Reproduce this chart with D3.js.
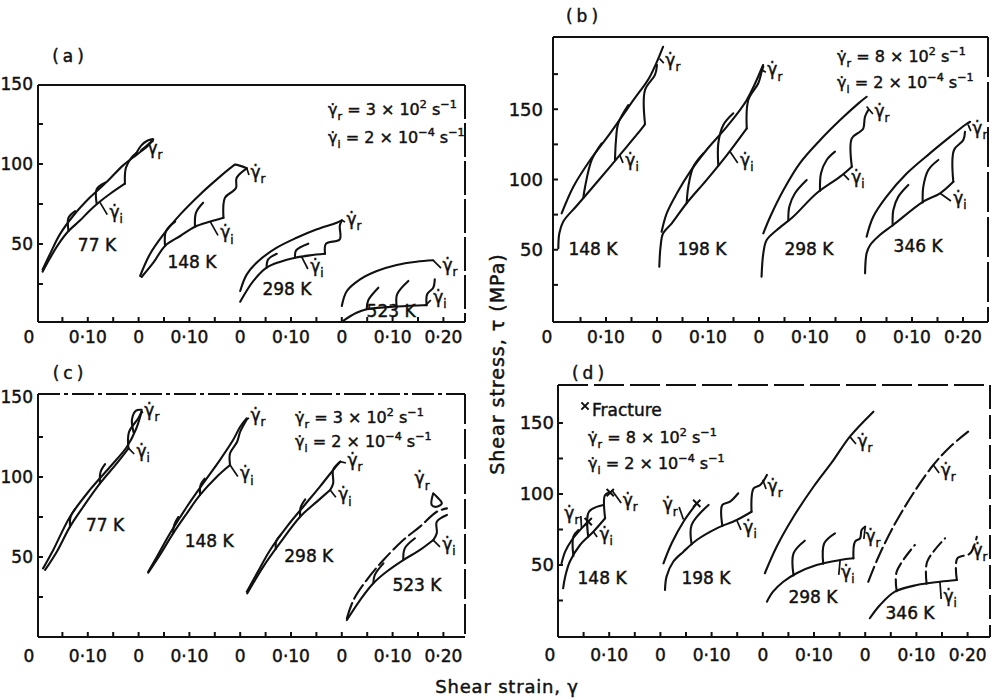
<!DOCTYPE html>
<html>
<head>
<meta charset="utf-8">
<script src="https://cdn.jsdelivr.net/npm/d3@7"></script>
<style>
  html, body { margin: 0; padding: 0; background: #fff; }
  svg { display: block; }
  text { font-family: "DejaVu Sans", sans-serif; fill: #111; stroke: #111; stroke-width: 0.45px; }
</style>
</head>
<body>
<svg id="fig" width="1003" height="700"></svg>
<script>
// ---------------------------------------------------------------
// Shear stress – shear strain curves, four test series (a)–(d).
// Each series holds four temperatures; every curve restarts at
// zero strain, shifted 0.20 along the common strain axis.
// Points are [local shear strain, shear stress in MPa].
// ---------------------------------------------------------------

const temperaturesA = ["77 K", "148 K", "298 K", "523 K"];
const temperaturesB = ["148 K", "198 K", "298 K", "346 K"];
const temperaturesC = ["77 K", "148 K", "298 K", "523 K"];
const temperaturesD = ["148 K", "198 K", "298 K", "346 K"];

// strain-rate legends: [subscript, mantissa, exponent]
const ratesAC = [["r", "3", "2"], ["i", "2", "\u22124"]];
const ratesBD = [["r", "8", "2"], ["i", "2", "\u22124"]];

// x tick labels (every 0.10 of the shared axis) and y tick labels
const strainTickLabels = ["0", "0\u00b710", "0", "0\u00b710", "0", "0\u00b710", "0", "0\u00b710", "0\u00b720"];
const stressTickLabels = [50, 100, 150];

// ---- series (a) ----
const upperA = [
  [[0.011,34],[0.026,44],[0.045,56],[0.071,67.5],[0.104,79],[0.138,89],[0.169,99],[0.197,106],[0.217,111],[0.226,114]],
  [[0.003,30],[0.022,43.5],[0.049,56],[0.082,68.5],[0.121,81],[0.154,90.4],[0.186,98.8],[0.19,99.6],[0.213,97.3]],
  [[0.0,20.6],[0.013,31],[0.036,39.4],[0.072,47.7],[0.111,53.9],[0.151,59.2],[0.19,63.3],[0.2,64.8]],
  [[0.0,11.3],[0.01,20.6],[0.036,27.9],[0.069,33.1],[0.108,36.9],[0.147,38.9],[0.18,39.8]]
];
const lowerA = [
  [[0.011,32.7],[0.026,41.4],[0.042,49.8],[0.062,58.1],[0.085,64.8],[0.104,71],[0.121,75.8],[0.144,81.4],[0.173,87.7]],
  [[0.006,29.4],[0.029,38.3],[0.052,48.8],[0.082,55],[0.111,60.8],[0.141,64],[0.167,66.4]],
  [[0.0,13.9],[0.026,26.9],[0.052,35.2],[0.078,38.8],[0.108,41.4],[0.137,42.9],[0.167,43.9]],
  [[0.0,1.4],[0.029,7],[0.049,9.2],[0.101,10.8],[0.16,11.7],[0.167,11.8]]
];
const jumpsA = [
  [[[0.062,58.1],[0.062,66.4],[0.075,70.6]],
   [[0.1175,75.2],[0.1175,84.2],[0.134,88.3]],
   [[0.173,87.7],[0.175,97.7],[0.186,104],[0.196,107]],
   [[0.196,107],[0.205,111.5],[0.217,114.5],[0.229,115.5],[0.218,112],[0.205,108.5]]],
  [[[0.052,48.8],[0.054,58.1],[0.072,64]],
   [[0.111,60.8],[0.113,69.6],[0.127,75.8]],
   [[0.167,66.4],[0.17,78.9],[0.186,83.1],[0.192,85.2],[0.193,91.4],[0.213,97.3]]],
  [[[0.052,35.2],[0.055,40.4],[0.072,43.9]],
   [[0.108,41.4],[0.11,46],[0.134,50.2]],
   [[0.167,43.9],[0.169,50.2],[0.196,52.9],[0.196,61.3],[0.2,64.8]]],
  [[[0.049,9.2],[0.052,14.8],[0.072,22.7]],
   [[0.108,10.9],[0.109,18.6],[0.131,26.9]],
   [[0.167,11.8],[0.168,18.6],[0.18,22.7],[0.183,27.9]]]
];

// ---- series (b) ----
const upperB = [
  [[0.013,75.9],[0.036,94.9],[0.069,113.9],[0.108,132.9],[0.154,156.6],[0.186,173.2],[0.212,194.5]],
  [[0.009,62.8],[0.019,75.9],[0.039,90.2],[0.065,105.6],[0.097,121],[0.137,137.6],[0.176,156.6],[0.208,181.5]],
  [[0.0085,61.7],[0.022,73.5],[0.048,92.5],[0.08,111.5],[0.12,128.1],[0.159,142.3],[0.195,154.2],[0.211,158.9]],
  [[0.011,59.3],[0.024,73.5],[0.05,87.8],[0.09,104.4],[0.135,118.6],[0.175,130.5],[0.204,138.8],[0.214,141.1]]
];
const lowerB = [
  [[0.0065,51],[0.0085,61.7],[0.016,70],[0.043,81.5],[0.088,100.5],[0.127,117.4],[0.173,137.6],[0.1765,139.5]],
  [[0.0045,37.9],[0.007,52.2],[0.012,61.7],[0.029,68.8],[0.058,83.1],[0.097,99.6],[0.137,117.4],[0.176,136.4]],
  [[0.005,30.8],[0.0085,47.5],[0.015,56.9],[0.035,64.1],[0.067,73.5],[0.113,90.2],[0.159,102],[0.182,109.1]],
  [[0.008,33.2],[0.011,47.5],[0.018,53.4],[0.037,60.5],[0.063,67.6],[0.122,84.2],[0.155,90.2],[0.181,98.4]]
];
const jumpsB = [
  [[[0.0555,86.9],[0.059,94.9],[0.072,113.9],[0.0915,125.8]],
   [[0.1176,113.7],[0.1196,128.1],[0.124,140],[0.1437,153]],
   [[0.1765,139.5],[0.1765,163.7],[0.196,174.4],[0.2,181.5]]],
  [[[0.0582,83.1],[0.0614,94.9],[0.0712,109.1],[0.0908,118.6]],
   [[0.1202,110],[0.1202,125.8],[0.13,138.8],[0.1496,147.1]],
   [[0.176,136.4],[0.179,156.6],[0.1986,168.5],[0.2052,176.7],[0.2084,180.3]]],
  [[[0.0575,70.7],[0.0594,80.6],[0.0706,90.2],[0.0935,99.6]],
   [[0.1196,91.9],[0.1216,104.4],[0.1327,113.9],[0.149,119.8]],
   [[0.182,109.1],[0.182,129.3],[0.198,134],[0.2046,136.4],[0.2078,144.7],[0.2143,149.5]]],
  [[[0.0621,67.3],[0.0634,78.3],[0.0732,87.8],[0.0928,96.1]],
   [[0.121,83.6],[0.1222,94.9],[0.132,106.8],[0.1516,113.9]],
   [[0.181,98.4],[0.1824,121],[0.2006,128.1],[0.2039,134]]]
];

// ---- series (c) ----
const upperC = [
  [[0.012,42.9],[0.032,54.4],[0.065,75.2],[0.104,91.9],[0.144,106.4],[0.177,118.9],[0.195,130],[0.206,141]],
  [[0.019,40.8],[0.036,50.2],[0.062,64.8],[0.095,81.4],[0.127,96],[0.16,110.6],[0.186,123.1],[0.2,131.4],[0.213,136.7]],
  [[0.013,28.3],[0.033,39.8],[0.059,54.4],[0.092,69],[0.124,81.4],[0.157,94],[0.183,104.4],[0.197,109.6]],
  [[0.01,11.7],[0.023,23.1],[0.049,35.6],[0.082,48.1],[0.121,60.6],[0.154,69],[0.187,78.3],[0.207,80.4]]
];
const lowerC = [
  [[0.016,41.9],[0.039,53.3],[0.065,69],[0.091,81.4],[0.124,96],[0.157,108.5],[0.18,117.9]],
  [[0.019,40.2],[0.042,51.3],[0.068,64.8],[0.095,77.3],[0.121,88.8],[0.154,100.2],[0.18,107.5]],
  [[0.014,27.3],[0.0455,44],[0.078,58.6],[0.118,75.2],[0.151,84.6],[0.177,91.9]],
  [[0.01,10.6],[0.036,23.1],[0.062,33.6],[0.088,40.8],[0.121,48.1],[0.154,54.4],[0.18,60.6]]
];
const jumpsC = [
  [[[0.065,69],[0.066,75],[0.075,80]],
   [[0.124,96],[0.125,103],[0.134,108]],
   [[0.18,117.9],[0.181,128],[0.2,137],[0.206,141]],
   [[0.19,128],[0.187,136],[0.195,141.5],[0.206,142]]],
  [[[0.068,64.8],[0.07,70],[0.078,75]],
   [[0.121,88.8],[0.122,95],[0.13,99]],
   [[0.18,107.5],[0.18,114.8],[0.194,122],[0.2,128.3],[0.213,136]]],
  [[[0.07,55],[0.071,60],[0.08,64]],
   [[0.118,75.2],[0.119,81],[0.128,86]],
   [[0.177,91.9],[0.183,96],[0.183,104.4],[0.197,109.6]]],
  [[[0.062,33.6],[0.065,38.8],[0.082,46]],
   [[0.121,48.1],[0.124,55.4],[0.144,61.7]],
   [[0.18,60.6],[0.187,64.8],[0.187,72.1],[0.207,76.3]],
   [[0.18,89.8],[0.177,82.5],[0.187,81.4],[0.197,83.6],[0.187,87.7],[0.18,89.8]]]
];

// ---- series (d) ----
const upperD = [
  [[0.007,51.2],[0.014,59.4],[0.027,67.6],[0.046,75.8],[0.059,80.5]],
  [[0.006,51.2],[0.022,65.3],[0.045,80.5],[0.071,93.4]],
  [[0.004,44.2],[0.027,62.9],[0.06,84],[0.099,105.1],[0.138,123.9],[0.17,140.4],[0.216,158]],
  [[0.006,38.2],[0.026,55.8],[0.055,77],[0.094,100.5],[0.133,120.4],[0.166,133.3],[0.201,143.9]]
];
const lowerD = [
  [[0.01,33.6],[0.014,41.8],[0.023,52.3],[0.043,64.1],[0.069,73.4],[0.092,82.9]],
  [[0.009,32.4],[0.012,41.8],[0.025,52.3],[0.045,59.4],[0.071,67.6],[0.11,75.8],[0.149,81.7],[0.178,87.5]],
  [[0.008,24.2],[0.02,31.2],[0.04,38.2],[0.066,44.2],[0.105,50],[0.151,53.5],[0.177,54.7]],
  [[0.009,12.5],[0.029,21.8],[0.058,31.2],[0.101,35.9],[0.146,38.2],[0.179,39.4]]
];
const jumpsD = [
  [[[0.03,56.3],[0.03,70],[0.04,74.6]],
   [[0.059,70],[0.0605,87.5],[0.0885,92.3]],
   [[0.092,82.9],[0.092,99.3],[0.102,101]]],
  [[[0.061,64.5],[0.061,78.2],[0.094,92.3]],
   [[0.121,77.5],[0.121,92.3],[0.136,94.6],[0.152,100.5]],
   [[0.178,87.5],[0.182,104],[0.195,106.3],[0.208,113.4]]],
  [[[0.06,42.7],[0.06,58.2],[0.082,67.1]],
   [[0.118,51],[0.12,65.3],[0.141,72.3]],
   [[0.177,54.7],[0.18,66.4],[0.19,68.8],[0.193,74.6],[0.2,77]]],
  [[[0.0615,31.6],[0.0615,45.3],[0.097,64.1]],
   [[0.12,36.9],[0.121,52.3],[0.156,68.8]],
   [[0.179,39.4],[0.18,54.7],[0.205,58.2],[0.218,69.9]]]
];
// fracture points: [curve index, strain, stress]
const fractureD = [[0, 0.059, 80.5], [0, 0.102, 101], [1, 0.071, 93.4]];

// ---- rate labels: [curve, rate, label strain, label stress, pointed strain, pointed stress]
const rateLabelsA = [
  [0,"r",0.232,109,null,null],[0,"i",0.156,69,0.124,76],
  [1,"r",0.235,93.8,0.213,97.3],[1,"i",0.174,56,0.141,64],
  [2,"r",0.224,64.4,0.2,64.8],[2,"i",0.151,35,0.121,42],
  [3,"r",0.213,35.6,0.18,39.8],[3,"i",0.193,15.6,0.165,11.8]
];
const rateLabelsB = [
  [0,"r",0.231,183.6,0.205,186],[0,"i",0.151,112.5,0.127,117.4],
  [1,"r",0.231,177,0.206,178],[1,"i",0.176,112.5,0.143,120],
  [2,"r",0.241,147.3,0.211,152],[2,"i",0.194,100.4,0.165,104],
  [3,"r",0.233,135.2,0.21,139],[3,"i",0.194,85.4,0.155,90.2]
];
const rateLabelsC = [
  [0,"r",0.226,140.6,0.206,141],[0,"i",0.209,115,0.18,118],
  [1,"r",0.235,137.5,0.213,136],[1,"i",0.213,101,0.18,107.5],
  [2,"r",0.226,109.4,0.197,109.6],[2,"i",0.206,88,0.177,91.9],
  [3,"r",0.158,98,null,null],[3,"i",0.211,57,0.18,60.6]
];
const rateLabelsD = [
  [0,"r",0.027,85.2,0.046,76],[0,"r",0.141,94.4,0.105,102.8],[0,"i",0.094,70.4,0.069,73.4],
  [1,"r",0.019,91.5,0.045,82],[1,"r",0.224,104.2,0.2,110],[1,"i",0.175,75.4,0.149,81.7],
  [2,"r",0.1996,135.9,0.17,140.4],[2,"r",0.215,69,0.2,77],[2,"i",0.166,43.7,0.151,53.5],
  [3,"r",0.162,115.5,0.133,120.4],[3,"r",0.224,59.2,0.205,58.2],[3,"i",0.166,26.8,0.146,38.2]
];

// ---------------------------------------------------------------
// layout
// ---------------------------------------------------------------
const INK = "#111";
const LINE_W = 2.1;
const svg = d3.select("#fig");

const panels = [
  { key: "a", temps: temperaturesA, upper: upperA, lower: lowerA, jumps: jumpsA, rates: ratesAC, labels: rateLabelsA,
    xPx: [37, 545], yMax: 150, yPx: [324, 84], frame: [38, 85, 465, 322],
    yLabelX: 33, yLabelSize: 17, xLabelY: 343, title: [70, 62],
    tempAt: [[0.118,49.4],[0.105,38.8],[0.092,21.9],[0.097,8.1]],
    legend: [328, 115, 143], topDash: null, rightDash: "34,4",
    upperDash: [null, null, null, null], jumpDash: [null, null, null, null] },
  { key: "b", temps: temperaturesB, upper: upperB, lower: lowerB, jumps: jumpsB, rates: ratesBD, labels: rateLabelsB,
    xPx: [555, 1065], yMax: 200, yPx: [320, 39], frame: [553, 37, 988, 322],
    yLabelX: 543, yLabelSize: 18, xLabelY: 343, title: [584, 22],
    tempAt: [[0.0745,50.5],[0.088,50.5],[0.098,50.5],[0.112,52.7]],
    legend: [837, 62, 88], topDash: null, rightDash: "40,5",
    upperDash: [null, null, null, null], jumpDash: [null, null, null, null] },
  { key: "c", temps: temperaturesC, upper: upperC, lower: lowerC, jumps: jumpsC, rates: ratesAC, labels: rateLabelsC,
    xPx: [37, 545], yMax: 150, yPx: [637, 397], frame: [38, 394, 465, 637],
    yLabelX: 33, yLabelSize: 17, xLabelY: 662, title: [70, 379],
    tempAt: [[0.134,70],[0.139,60],[0.135,50.6],[0.148,32.5]],
    legend: [295, 423, 447], topDash: "22,4,4,4", rightDash: "30,5",
    upperDash: [null, null, null, "16,5"], jumpDash: [null, null, null, null] },
  { key: "d", temps: temperaturesD, upper: upperD, lower: lowerD, jumps: jumpsD, rates: ratesBD, labels: rateLabelsD,
    xPx: [558, 1070], yMax: 175, yPx: [636, 387.5], frame: [558, 385, 990, 637],
    yLabelX: 554, yLabelSize: 18, xLabelY: 661, title: [590, 379],
    tempAt: [[0.086,40.8],[0.089,40.8],[0.098,27.5],[0.0875,16.2]],
    legend: [588, 443, 469], topDash: "30,6", rightDash: "24,6",
    upperDash: [null, null, null, "16,5"], jumpDash: [null, null, null, "12,5"] }
];

// text with sub/superscript parts: [string, "n" | "sub" | "sup"]
function richText(parent, x, y, parts, size, anchor) {
  const t = parent.append("text").attr("x", x).attr("y", y)
    .attr("font-size", size).attr("text-anchor", anchor || "start");
  let shift = 0;
  parts.forEach(([str, mode]) => {
    const target = mode === "sub" ? size * 0.32 : mode === "sup" ? -size * 0.42 : 0;
    t.append("tspan")
      .attr("dy", (target - shift).toFixed(2))
      .attr("font-size", mode === "n" ? size : size * 0.7)
      .text(str);
    shift = target;
  });
  return t;
}
const GDOT = "\u03b3\u0307";

panels.forEach(p => {
  const g = svg.append("g").attr("class", "panel-" + p.key);
  const x = d3.scaleLinear().domain([0, 1]).range(p.xPx);
  const y = d3.scaleLinear().domain([0, p.yMax]).range(p.yPx);
  const gx = (k, s) => x(0.2 * k + s);

  const [fx0, fy0, fx1, fy1] = p.frame;

  // frame
  const frameLine = (x1, y1, x2, y2, dash) => g.append("line")
    .attr("x1", x1).attr("y1", y1).attr("x2", x2).attr("y2", y2)
    .attr("stroke", INK).attr("stroke-width", 2)
    .attr("stroke-dasharray", dash || null);
  frameLine(fx0, fy0, fx0, fy1);
  frameLine(fx0, fy1, fx1, fy1);
  frameLine(fx0, fy0, fx1, fy0, p.topDash);
  frameLine(fx1, fy0, fx1, fy1, p.rightDash);

  // bottom ticks every 0.05 (drawn inward) and labels every 0.10
  const xTicks = d3.range(1, 17).map(i => i * 0.05);
  g.selectAll("line.xt").data(xTicks).join("line").attr("class", "xt")
    .attr("x1", d => x(d)).attr("x2", d => x(d))
    .attr("y1", fy1).attr("y2", fy1 - 5)
    .attr("stroke", INK).attr("stroke-width", 2);
  g.selectAll("text.xl").data(strainTickLabels).join("text").attr("class", "xl")
    .attr("x", (d, i) => x(i * 0.1) - (i === 0 ? 8 : 0))
    .attr("y", p.xLabelY)
    .attr("text-anchor", "middle").attr("font-size", 17)
    .text(d => d);

  // left ticks every 25 MPa and labels
  const yTicks = d3.range(25, p.yMax, 25).filter(v => y(v) > fy0 + 3);
  g.selectAll("line.yt").data(yTicks).join("line").attr("class", "yt")
    .attr("x1", fx0).attr("x2", fx0 + 5)
    .attr("y1", d => y(d)).attr("y2", d => y(d))
    .attr("stroke", INK).attr("stroke-width", 2);
  g.selectAll("text.yl").data(stressTickLabels).join("text").attr("class", "yl")
    .attr("x", p.yLabelX).attr("y", d => y(d))
    .attr("dy", "0.36em")
    .attr("text-anchor", "end").attr("font-size", p.yLabelSize)
    .text(d => d);

  // panel title
  g.append("text").attr("x", p.title[0]).attr("y", p.title[1])
    .attr("text-anchor", "middle").attr("font-size", 17)
    .attr("letter-spacing", 4)
    .text("(" + p.key + ")");

  // curves
  p.upper.forEach((curve, k) => {
    const line = d3.line().x(d => gx(k, d[0])).y(d => y(d[1]))
      .curve(d3.curveCatmullRom.alpha(0.5));
    const stroke = sel => sel.attr("fill", "none").attr("stroke", INK).attr("stroke-width", LINE_W)
      .attr("stroke-linecap", "round").attr("stroke-linejoin", "round");
    g.append("path").attr("d", line(curve)).call(stroke)
      .attr("stroke-dasharray", p.upperDash[k]);
    g.append("path").attr("d", line(p.lower[k])).call(stroke);
    p.jumps[k].forEach(branch => {
      g.append("path").attr("d", line(branch)).call(stroke)
        .attr("stroke-dasharray", p.jumpDash[k]);
    });
  });

  // temperature labels
  p.temps.forEach((t, k) => {
    const [s, tau] = p.tempAt[k];
    g.append("text").attr("x", gx(k, s)).attr("y", y(tau)).attr("dy", "0.36em")
      .attr("text-anchor", "middle").attr("font-size", 17).text(t);
  });

  // rate labels with short leaders
  p.labels.forEach(([k, r, ls, lt, ts, tt]) => {
    const lx = gx(k, ls), ly = y(lt);
    if (ts !== null) {
      const tx = gx(k, ts), ty = y(tt);
      const ex = tx > lx ? lx + 9 : lx - 9;
      g.append("line").attr("x1", tx).attr("y1", ty).attr("x2", ex).attr("y2", ly + 1)
        .attr("stroke", INK).attr("stroke-width", 1.7);
    }
    richText(g, lx, ly + 4, [[GDOT, "n"], [r, "sub"]], 17, "middle");
  });

  // strain-rate legend
  p.rates.forEach(([sub, mant, expo], j) => {
    richText(g, p.legend[0], p.legend[1 + j],
      [[GDOT, "n"], [sub, "sub"], [" = " + mant + " \u00d7 10", "n"], [expo, "sup"], [" s", "n"], ["\u22121", "sup"]],
      16);
  });

  // fracture marks (series d)
  if (p.key === "d") {
    const sym = d3.symbol().type(d3.symbolTimes).size(36);
    fractureD.forEach(([k, s, tau]) => {
      g.append("path").attr("d", sym())
        .attr("transform", `translate(${gx(k, s)},${y(tau)})`)
        .attr("fill", "none").attr("stroke", INK).attr("stroke-width", 2);
    });
    g.append("path").attr("d", sym())
      .attr("transform", `translate(585,406)`)
      .attr("fill", "none").attr("stroke", INK).attr("stroke-width", 2);
    g.append("text").attr("x", 592).attr("y", 416).attr("font-size", 17).text("Fracture");
  }
});

// shared axis titles
svg.append("text")
  .attr("transform", "translate(504,364) rotate(-90)")
  .attr("text-anchor", "middle").attr("font-size", 19).attr("letter-spacing", 1)
  .text("Shear stress, \u03c4 (MPa)");
svg.append("text")
  .attr("x", 507).attr("y", 693)
  .attr("text-anchor", "middle").attr("font-size", 18).attr("letter-spacing", 0.8)
  .text("Shear strain, \u03b3");
</script>
</body>
</html>
